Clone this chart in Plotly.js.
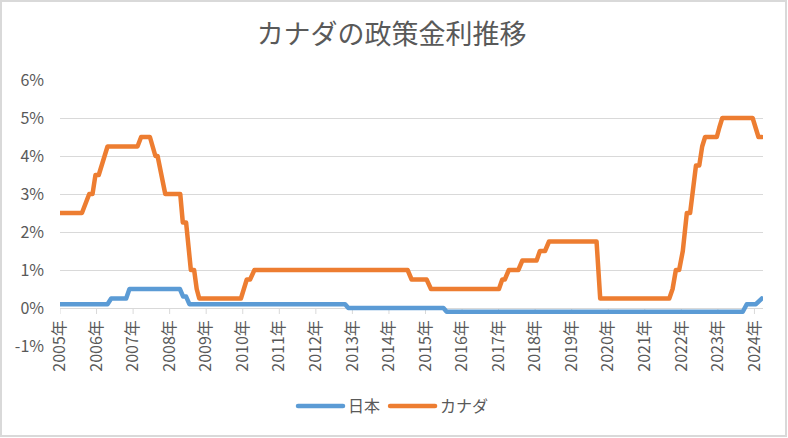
<!DOCTYPE html>
<html>
<head>
<meta charset="utf-8">
<script src="https://cdn.plot.ly/plotly-3.0.1.min.js"></script>
<style>
html,body{margin:0;padding:0;background:#fff;}
#wrap{position:relative;width:788px;height:438px;}
#chart{width:788px;height:438px;}
#frame{position:absolute;left:0;top:0;width:787px;height:437px;box-sizing:border-box;border:2px solid #D9D9D9;pointer-events:none;}
.js-line{stroke-linejoin:round;stroke-linecap:round;}
.legendlines path{stroke-linecap:round;}
</style>
</head>
<body>
<div id="wrap"><div id="chart"></div><div id="frame"></div></div>
<script>
// Series names
const seriesNames = ['日本', 'カナダ'];

// Japan policy rate (%), vertices (x in axis year units)
const japanX = [2005.00, 2006.30, 2006.40, 2006.81, 2006.90, 2008.28, 2008.37, 2008.45, 2008.54,
                2012.80, 2012.89, 2015.49, 2015.58, 2023.68, 2023.79, 2024.04, 2024.20];
const japanY = [0.1, 0.1, 0.25, 0.25, 0.5, 0.5, 0.3, 0.3, 0.1,
                0.1, 0.0, 0.0, -0.1, -0.1, 0.1, 0.1, 0.25];

// Canada policy rate (%)
const canadaX = [2005.00, 2005.60, 2005.70, 2005.80, 2005.89, 2005.97, 2006.06, 2006.14, 2006.22, 2006.30,
                 2007.12, 2007.22, 2007.46, 2007.54, 2007.61, 2007.67, 2007.78, 2007.88, 2008.29, 2008.36,
                 2008.45, 2008.52, 2008.58, 2008.67, 2008.74, 2008.81, 2009.95, 2010.03, 2010.11, 2010.20,
                 2010.32, 2014.51, 2014.62, 2015.03, 2015.15, 2017.01, 2017.10, 2017.17, 2017.28, 2017.54,
                 2017.65, 2018.04, 2018.13, 2018.27, 2018.38, 2019.68, 2019.78, 2021.67, 2021.76, 2021.85,
                 2021.94, 2022.04, 2022.15, 2022.24, 2022.32, 2022.40, 2022.49, 2022.57, 2022.65, 2022.97,
                 2023.04, 2023.12, 2023.95, 2024.03, 2024.11, 2024.20];
const canadaY = [2.5, 2.5, 2.75, 3.0, 3.0, 3.5, 3.5, 3.75, 4.0, 4.25,
                 4.25, 4.5, 4.5, 4.25, 4.0, 4.0, 3.5, 3.0, 3.0, 2.25,
                 2.25, 1.5, 1.0, 1.0, 0.5, 0.25, 0.25, 0.5, 0.75, 0.75,
                 1.0, 1.0, 0.75, 0.75, 0.5, 0.5, 0.75, 0.75, 1.0, 1.0,
                 1.25, 1.25, 1.5, 1.5, 1.75, 1.75, 0.25, 0.25, 0.5, 1.0,
                 1.0, 1.5, 2.5, 2.5, 3.25, 3.75, 3.75, 4.25, 4.5, 4.5,
                 4.75, 5.0, 5.0, 4.75, 4.5, 4.5];

// Axis ticks
const yearTicks = [2005, 2006, 2007, 2008, 2009, 2010, 2011, 2012, 2013, 2014,
                   2015, 2016, 2017, 2018, 2019, 2020, 2021, 2022, 2023, 2024];
const yearLabels = ['2005年', '2006年', '2007年', '2008年', '2009年', '2010年', '2011年', '2012年', '2013年', '2014年',
                    '2015年', '2016年', '2017年', '2018年', '2019年', '2020年', '2021年', '2022年', '2023年', '2024年'];
const yTicks = [-1, 0, 1, 2, 3, 4, 5, 6];
const yLabels = ['-1%', '0%', '1%', '2%', '3%', '4%', '5%', '6%'];

const FONT = "'Noto Sans CJK JP', 'Noto Sans', sans-serif";
const TXT = '#595959';
const GRID = '#D9D9D9';

const traces = [
  {x: japanX, y: japanY, name: seriesNames[0], type: 'scatter', mode: 'lines',
   line: {color: '#5B9BD5', width: 4.5}},
  {x: canadaX, y: canadaY, name: seriesNames[1], type: 'scatter', mode: 'lines',
   line: {color: '#ED7D31', width: 4.5}}
];

// small tick marks hanging below the 0% category-axis line
const tickShapes = yearTicks.map(t => ({
  type: 'line', layer: 'below', xref: 'x', yref: 'y', ysizemode: 'pixel', yanchor: 0,
  x0: t, x1: t, y0: 0, y1: -6, line: {color: GRID, width: 1}
}));

const layout = {
  width: 788, height: 438,
  margin: {l: 60, r: 25, t: 80, b: 92, pad: 0, autoexpand: false},
  paper_bgcolor: '#ffffff', plot_bgcolor: '#ffffff',
  font: {family: FONT, color: TXT, size: 16},
  title: {text: 'カナダの政策金利推移', font: {family: FONT, size: 27, color: TXT},
          xref: 'container', x: 0.497, xanchor: 'center',
          yref: 'container', y: 1 - 35 / 438, yanchor: 'middle'},
  xaxis: {range: [2005, 2024.234], tickvals: yearTicks, ticktext: yearLabels, tickangle: -90,
          showgrid: false, zeroline: false, showline: false, ticks: '',
          ticklabelstandoff: -30,
          tickfont: {family: FONT, size: 16, color: TXT}, fixedrange: true},
  yaxis: {range: [-1, 6], tickvals: yTicks, ticktext: yLabels,
          showgrid: true, gridcolor: GRID, gridwidth: 1,
          zeroline: true, zerolinecolor: GRID, zerolinewidth: 1, showline: false,
          ticks: '', ticklabelstandoff: 15,
          tickfont: {family: FONT, size: 16, color: TXT}, fixedrange: true},
  shapes: tickShapes,
  showlegend: true,
  legend: {orientation: 'h', xref: 'container', x: 0.4994, xanchor: 'center',
           y: -0.2256, yanchor: 'middle', font: {family: FONT, size: 16, color: TXT},
           itemwidth: 45, bgcolor: 'rgba(0,0,0,0)'}
};

Plotly.newPlot('chart', traces, layout, {displayModeBar: false, staticPlot: true});
</script>
</body>
</html>
